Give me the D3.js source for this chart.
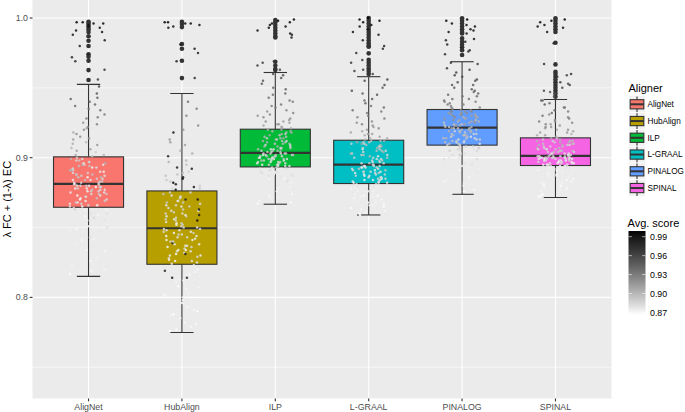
<!DOCTYPE html>
<html><head><meta charset="utf-8">
<script src="https://cdn.jsdelivr.net/npm/d3@7"></script>
<style>body{margin:0;background:#fff;}svg{display:block;font-family:"Liberation Sans",Arial,sans-serif;}</style>
</head><body>
<svg id="chart" width="685" height="412"></svg>
<script>
// ---------- data ----------
const categories = ["AligNet","HubAlign","ILP","L-GRAAL","PINALOG","SPINAL"];
const lowerWhisker = [0.815,0.7749,0.8667,0.859,0.8738,0.8715];
const q1Values     = [0.8645,0.8237,0.8934,0.8815,0.909,0.8944];
const medianValues = [0.8812,0.8495,0.9034,0.8951,0.9216,0.9013];
const q3Values     = [0.9006,0.8762,0.9204,0.9125,0.9345,0.9142];
const upperWhisker = [0.9525,0.946,0.961,0.958,0.9687,0.9417];

const outliersAligNet = [0.9973,0.9964,0.995,0.9935,0.992,0.990,0.987,0.9837,0.980,0.974,0.9723,0.9694,0.9627,0.9556];
const outliersHubAlign = [0.9973,0.9957,0.9935,0.9814,0.978,0.9694,0.957];
const outliersILP = [0.9986,0.997,0.995,0.993,0.991,0.989,0.987,0.986,0.9687,0.966,0.9635,0.9628];
const outliersLGRAAL = [1.0,0.998,0.996,0.994,0.992,0.99,0.988,0.986,0.984,0.982,0.98,0.9795,0.9747,0.97,0.968,0.966,0.964,0.962,0.96];
const outliersPINALOG = [0.9998,0.998,0.996,0.994,0.992,0.990,0.989,0.9854,0.983,0.981,0.979,0.977,0.9735];
const outliersSPINAL = [0.9998,0.998,0.996,0.994,0.992,0.990,0.9823,0.9668,0.9615,0.96,0.958,0.956,0.954,0.952,0.950,0.948,0.946,0.9436];

const valuesAligNet = [0.817,0.820,0.823,0.826,0.830,0.834,0.836,0.839,0.841,0.843,0.845,0.847,0.849,0.850,0.852,0.853,0.855,0.856,0.857,0.858,0.859,0.860,0.861,0.862,0.863,
0.865,0.866,0.867,0.868,0.869,0.870,0.871,0.871,0.872,0.873,0.874,0.874,0.875,0.876,0.876,0.877,0.877,0.878,0.878,0.879,0.879,0.880,0.880,0.881,0.881,
0.882,0.882,0.883,0.884,0.884,0.885,0.886,0.886,0.887,0.888,0.888,0.889,0.890,0.891,0.891,0.892,0.893,0.894,0.895,0.895,0.896,0.897,0.898,0.899,0.900,
0.901,0.902,0.904,0.905,0.907,0.909,0.911,0.913,0.915,0.918,0.920,0.922,0.925,0.928,0.931,0.934,0.937,0.940,0.943,0.951,
0.956,0.963,0.969,0.972,0.974,0.980,0.984,0.988,0.991,0.994,0.996,0.997];
const scoresAligNet = [0.868,0.870,0.872,0.869,0.875,0.871,0.878,0.873,0.870,0.880,0.874,0.877,0.869,0.882,0.876,0.871,0.879,0.873,0.884,0.875,0.870,0.881,0.877,0.872,0.886,
0.872,0.885,0.878,0.890,0.874,0.882,0.895,0.876,0.888,0.870,0.884,0.892,0.879,0.873,0.887,0.896,0.881,0.875,0.889,0.871,0.893,0.883,0.877,0.898,0.880,
0.886,0.874,0.891,0.879,0.897,0.883,0.872,0.894,0.888,0.876,0.899,0.885,0.878,0.902,0.890,0.881,0.873,0.895,0.887,0.905,0.877,0.892,0.884,0.900,0.889,
0.895,0.905,0.890,0.910,0.900,0.915,0.898,0.912,0.920,0.905,0.918,0.925,0.915,0.930,0.928,0.935,0.938,0.942,0.945,0.955,
0.965,0.970,0.975,0.978,0.980,0.984,0.986,0.988,0.990,0.993,0.995,0.997];
const valuesAligNetB = [0.819,0.828,0.833,0.838,0.842,0.846,0.848,0.851,0.854,0.855,0.857,0.858,0.860,0.861,0.862,0.863,0.864,
0.865,0.866,0.867,0.868,0.869,0.870,0.872,0.873,0.874,0.875,0.876,0.877,0.878,0.879,0.879,0.880,0.880,0.881,
0.882,0.883,0.884,0.885,0.886,0.887,0.888,0.889,0.890,0.891,0.892,0.893,0.894,0.895,0.896,0.897,0.898,0.899,
0.902,0.906,0.910,0.914,0.917,0.921,0.924,0.929,0.935,0.938,0.942,0.946,
0.990,0.993,0.995,0.996,0.997];
const scoresAligNetB = [0.869,0.872,0.870,0.874,0.871,0.876,0.873,0.870,0.878,0.872,0.875,0.869,0.880,0.874,0.877,0.871,0.879,
0.880,0.874,0.886,0.877,0.891,0.872,0.884,0.879,0.894,0.876,0.888,0.882,0.873,0.897,0.885,0.878,0.890,0.881,
0.884,0.893,0.877,0.889,0.899,0.880,0.895,0.886,0.874,0.901,0.891,0.883,0.896,0.878,0.904,0.887,0.892,0.882,
0.900,0.910,0.906,0.915,0.920,0.912,0.925,0.930,0.936,0.940,0.944,0.950,
0.988,0.991,0.993,0.995,0.997];

const valuesHubAlign = [0.776,0.779,0.782,0.785,0.788,0.791,0.794,0.796,0.798,0.800,0.802,0.804,0.806,0.808,0.810,0.811,0.813,0.814,0.815,0.816,0.817,0.818,0.819,0.821,0.822,
0.824,0.826,0.827,0.829,0.830,0.831,0.832,0.833,0.834,0.835,0.836,0.837,0.838,0.839,0.840,0.841,0.842,0.843,0.844,0.845,0.846,0.847,0.848,0.848,0.849,
0.850,0.851,0.852,0.853,0.854,0.855,0.856,0.857,0.858,0.859,0.860,0.861,0.862,0.863,0.864,0.865,0.866,0.867,0.868,0.869,0.870,0.871,0.872,0.874,0.875,
0.877,0.878,0.879,0.880,0.882,0.884,0.886,0.888,0.890,0.892,0.895,0.898,0.901,0.905,0.909,0.913,0.918,0.923,0.930,0.940,
0.957,0.969,0.978,0.981,0.994,0.996,0.997];
const scoresHubAlign = [0.868,0.870,0.869,0.872,0.867,0.871,0.874,0.868,0.870,0.873,0.869,0.875,0.871,0.868,0.876,0.870,0.872,0.985,0.874,0.869,0.877,0.871,0.980,0.873,0.878,
0.875,0.880,0.872,0.884,0.877,0.870,0.882,0.879,0.874,0.886,0.871,0.881,0.876,0.990,0.883,0.873,0.878,0.885,0.872,0.880,0.887,0.875,0.882,0.877,0.884,
0.879,0.886,0.874,0.888,0.881,0.992,0.877,0.885,0.890,0.876,0.883,0.888,0.873,0.986,0.882,0.889,0.878,0.884,0.891,0.880,0.975,0.887,0.882,0.893,0.885,
0.990,0.885,0.988,0.890,0.995,0.892,0.982,0.896,0.888,0.985,0.895,0.900,0.978,0.905,0.910,0.915,0.990,0.920,0.925,0.935,
0.975,0.980,0.985,0.988,0.992,0.995,0.997];
const valuesHubAlignB = [0.777,0.781,0.787,0.790,0.793,0.797,0.801,0.803,0.807,0.809,0.812,0.814,0.816,0.818,0.820,0.821,0.823,
0.825,0.826,0.828,0.830,0.831,0.833,0.834,0.836,0.837,0.838,0.840,0.841,0.843,0.844,0.845,0.846,0.847,0.849,
0.850,0.852,0.853,0.855,0.856,0.858,0.859,0.860,0.862,0.863,0.865,0.866,0.868,0.869,0.870,0.872,0.873,0.875,
0.878,0.881,0.883,0.885,0.887,0.889,0.893,0.897,0.903,0.911,0.920,0.935,
0.975,0.993,0.995,0.996,0.997];
const scoresHubAlignB = [0.867,0.869,0.871,0.868,0.870,0.872,0.869,0.873,0.870,0.874,0.871,0.975,0.872,0.875,0.870,0.876,0.873,
0.878,0.872,0.882,0.875,0.985,0.880,0.871,0.884,0.877,0.879,0.886,0.873,0.881,0.876,0.888,0.874,0.883,0.879,
0.881,0.887,0.875,0.884,0.890,0.878,0.982,0.886,0.880,0.889,0.876,0.884,0.892,0.879,0.987,0.885,0.881,0.890,
0.890,0.985,0.893,0.988,0.896,0.899,0.980,0.902,0.906,0.912,0.918,0.930,
0.978,0.990,0.993,0.995,0.997];

const valuesILP = [0.867,0.869,0.871,0.873,0.875,0.876,0.877,0.878,0.879,0.880,0.881,0.882,0.883,0.884,0.885,0.886,0.887,0.888,0.888,0.889,0.890,0.890,0.891,0.892,0.893,
0.894,0.894,0.895,0.895,0.896,0.896,0.897,0.897,0.898,0.898,0.898,0.899,0.899,0.899,0.900,0.900,0.900,0.901,0.901,0.901,0.902,0.902,0.902,0.903,0.903,
0.904,0.904,0.905,0.905,0.906,0.906,0.907,0.907,0.908,0.908,0.909,0.910,0.910,0.911,0.912,0.912,0.913,0.914,0.914,0.915,0.916,0.917,0.918,0.919,0.920,
0.921,0.922,0.923,0.924,0.925,0.926,0.927,0.929,0.930,0.932,0.934,0.936,0.938,0.940,0.943,0.946,0.949,0.953,0.957,0.960,
0.963,0.966,0.969,0.986,0.988,0.991,0.993,0.995,0.997,0.999];
const scoresILP = [0.868,0.870,0.872,0.869,0.874,0.871,0.876,0.873,0.870,0.878,0.875,0.872,0.880,0.874,0.869,0.877,0.882,0.871,0.879,0.875,0.884,0.873,0.881,0.877,0.886,
0.880,0.887,0.876,0.891,0.883,0.878,0.894,0.885,0.881,0.889,0.875,0.892,0.884,0.879,0.896,0.887,0.882,0.890,0.877,0.893,0.886,0.880,0.898,0.884,0.889,
0.891,0.884,0.897,0.888,0.882,0.900,0.893,0.886,0.903,0.890,0.885,0.898,0.892,0.905,0.887,0.895,0.901,0.889,0.908,0.896,0.893,0.903,0.899,0.910,0.905,
0.905,0.912,0.908,0.915,0.910,0.918,0.913,0.920,0.916,0.925,0.922,0.928,0.932,0.930,0.936,0.940,0.944,0.948,0.952,0.955,
0.960,0.963,0.966,0.985,0.987,0.989,0.991,0.993,0.995,0.997];
const valuesILPB = [0.868,0.872,0.874,0.877,0.879,0.880,0.882,0.884,0.885,0.887,0.888,0.889,0.890,0.891,0.892,0.892,0.893,
0.894,0.895,0.895,0.896,0.897,0.897,0.898,0.899,0.899,0.900,0.900,0.901,0.901,0.902,0.902,0.903,0.903,0.903,
0.904,0.905,0.906,0.906,0.907,0.908,0.909,0.910,0.911,0.912,0.913,0.914,0.915,0.916,0.917,0.918,0.919,0.920,
0.922,0.924,0.926,0.928,0.931,0.933,0.937,0.941,0.945,0.950,0.955,0.959,
0.968,0.989,0.994,0.996,0.998];
const scoresILPB = [0.869,0.873,0.870,0.875,0.872,0.877,0.874,0.879,0.871,0.881,0.876,0.883,0.878,0.885,0.880,0.874,0.887,
0.882,0.889,0.878,0.892,0.885,0.880,0.895,0.887,0.883,0.891,0.877,0.894,0.886,0.881,0.897,0.889,0.884,0.893,
0.888,0.896,0.884,0.900,0.891,0.903,0.887,0.898,0.894,0.906,0.890,0.901,0.897,0.909,0.893,0.904,0.900,0.911,
0.907,0.914,0.911,0.918,0.922,0.917,0.926,0.931,0.936,0.942,0.948,0.953,
0.964,0.988,0.992,0.995,0.997];

const valuesLGRAAL = [0.859,0.861,0.863,0.865,0.866,0.867,0.868,0.869,0.870,0.871,0.872,0.873,0.874,0.874,0.875,0.876,0.876,0.877,0.878,0.878,0.879,0.879,0.880,0.880,0.881,
0.882,0.882,0.883,0.884,0.884,0.885,0.886,0.886,0.887,0.887,0.888,0.888,0.889,0.889,0.890,0.890,0.891,0.891,0.892,0.892,0.893,0.893,0.894,0.894,0.895,
0.896,0.896,0.897,0.898,0.898,0.899,0.900,0.900,0.901,0.902,0.902,0.903,0.904,0.905,0.905,0.906,0.907,0.908,0.908,0.909,0.910,0.910,0.911,0.912,0.912,
0.913,0.914,0.915,0.916,0.917,0.918,0.920,0.921,0.923,0.924,0.926,0.928,0.930,0.932,0.934,0.936,0.939,0.942,0.945,0.948,0.952,0.956,
0.960,0.962,0.965,0.968,0.970,0.975,0.980,0.984,0.988,0.992,0.995,0.997,0.999,1.000];
const scoresLGRAAL = [0.867,0.869,0.870,0.868,0.872,0.869,0.871,0.873,0.870,0.874,0.872,0.868,0.875,0.871,0.876,0.873,0.870,0.877,0.874,0.878,0.872,0.879,0.875,0.880,0.876,
0.874,0.880,0.877,0.883,0.875,0.886,0.879,0.882,0.888,0.876,0.884,0.890,0.878,0.885,0.881,0.892,0.877,0.887,0.883,0.894,0.880,0.889,0.885,0.879,0.891,
0.884,0.893,0.880,0.888,0.896,0.882,0.891,0.886,0.899,0.883,0.894,0.889,0.902,0.885,0.897,0.891,0.887,0.905,0.893,0.899,0.889,0.908,0.895,0.902,0.911,
0.900,0.905,0.910,0.903,0.915,0.908,0.912,0.920,0.916,0.924,0.920,0.928,0.932,0.926,0.935,0.938,0.942,0.946,0.950,0.953,0.956,0.960,
0.962,0.964,0.966,0.968,0.970,0.974,0.978,0.982,0.986,0.989,0.992,0.994,0.996,0.998];
const valuesLGRAALB = [0.860,0.862,0.864,0.866,0.868,0.869,0.871,0.872,0.873,0.875,0.876,0.877,0.878,0.879,0.880,0.880,0.881,
0.882,0.883,0.884,0.885,0.885,0.886,0.887,0.888,0.889,0.890,0.890,0.891,0.892,0.893,0.893,0.894,0.894,0.895,
0.896,0.897,0.898,0.899,0.900,0.901,0.902,0.903,0.904,0.905,0.906,0.907,0.908,0.909,0.910,0.911,0.911,0.912,
0.914,0.917,0.919,0.922,0.925,0.929,0.933,0.937,0.941,0.946,0.950,0.955,
0.963,0.978,0.990,0.994,0.998];
const scoresLGRAALB = [0.868,0.870,0.867,0.872,0.869,0.874,0.871,0.873,0.870,0.876,0.872,0.875,0.869,0.878,0.874,0.877,0.880,
0.876,0.883,0.879,0.886,0.874,0.889,0.881,0.877,0.891,0.884,0.878,0.893,0.880,0.887,0.875,0.890,0.882,0.886,
0.887,0.881,0.894,0.885,0.898,0.879,0.892,0.901,0.886,0.895,0.883,0.904,0.890,0.897,0.884,0.907,0.893,0.900,
0.904,0.911,0.907,0.915,0.918,0.922,0.927,0.933,0.937,0.943,0.948,0.955,
0.963,0.976,0.988,0.993,0.997];

const valuesPINALOG = [0.874,0.877,0.880,0.883,0.885,0.887,0.889,0.891,0.893,0.894,0.896,0.897,0.898,0.899,0.900,0.901,0.902,0.903,0.904,0.905,0.906,0.906,0.907,0.908,0.908,
0.909,0.910,0.910,0.911,0.912,0.912,0.913,0.913,0.914,0.914,0.915,0.915,0.916,0.916,0.917,0.917,0.918,0.918,0.919,0.919,0.920,0.920,0.921,0.921,0.921,
0.922,0.922,0.923,0.923,0.924,0.924,0.925,0.925,0.926,0.926,0.927,0.927,0.928,0.928,0.929,0.929,0.930,0.930,0.931,0.931,0.932,0.932,0.933,0.933,0.934,
0.935,0.936,0.937,0.938,0.939,0.940,0.941,0.942,0.944,0.945,0.947,0.948,0.950,0.952,0.954,0.956,0.958,0.961,0.964,0.968,
0.974,0.977,0.979,0.981,0.983,0.985,0.989,0.990,0.992,0.994,0.996,0.998];
const scoresPINALOG = [0.868,0.869,0.871,0.870,0.873,0.872,0.875,0.871,0.877,0.874,0.879,0.876,0.873,0.881,0.878,0.875,0.883,0.880,0.877,0.885,0.879,0.887,0.882,0.889,0.884,
0.886,0.880,0.891,0.884,0.888,0.894,0.882,0.890,0.897,0.886,0.893,0.881,0.899,0.889,0.895,0.885,0.902,0.892,0.888,0.905,0.897,0.891,0.900,0.894,0.908,
0.896,0.903,0.890,0.907,0.899,0.911,0.893,0.905,0.914,0.901,0.909,0.897,0.916,0.906,0.912,0.902,0.919,0.910,0.915,0.908,0.922,0.913,0.918,0.925,0.920,
0.918,0.925,0.922,0.928,0.930,0.926,0.933,0.936,0.932,0.940,0.938,0.944,0.948,0.946,0.952,0.955,0.958,0.962,0.965,0.968,
0.972,0.975,0.978,0.980,0.982,0.984,0.987,0.989,0.991,0.993,0.995,0.997];
const valuesPINALOGB = [0.876,0.882,0.886,0.890,0.892,0.895,0.897,0.899,0.900,0.902,0.903,0.904,0.905,0.906,0.907,0.907,0.908,
0.909,0.910,0.911,0.911,0.912,0.913,0.914,0.914,0.915,0.916,0.916,0.917,0.918,0.919,0.919,0.920,0.920,0.921,
0.922,0.923,0.923,0.924,0.925,0.926,0.926,0.927,0.928,0.929,0.929,0.930,0.931,0.931,0.932,0.933,0.933,0.934,
0.936,0.938,0.940,0.942,0.944,0.946,0.949,0.952,0.955,0.959,0.963,0.967,
0.976,0.984,0.991,0.995,0.999];
const scoresPINALOGB = [0.869,0.874,0.871,0.877,0.873,0.880,0.875,0.883,0.878,0.886,0.881,0.876,0.888,0.884,0.879,0.891,0.886,
0.889,0.895,0.884,0.898,0.891,0.886,0.901,0.894,0.888,0.904,0.897,0.890,0.907,0.899,0.893,0.910,0.902,0.896,
0.900,0.913,0.905,0.897,0.916,0.908,0.902,0.919,0.911,0.906,0.921,0.914,0.909,0.924,0.917,0.912,0.927,0.920,
0.924,0.930,0.927,0.934,0.937,0.941,0.945,0.949,0.953,0.958,0.962,0.966,
0.974,0.981,0.989,0.994,0.998];

const valuesSPINAL = [0.872,0.874,0.876,0.878,0.879,0.881,0.882,0.883,0.884,0.885,0.886,0.887,0.888,0.888,0.889,0.890,0.890,0.891,0.891,0.892,0.892,0.893,0.893,0.894,0.894,
0.895,0.895,0.895,0.896,0.896,0.896,0.897,0.897,0.897,0.898,0.898,0.898,0.898,0.899,0.899,0.899,0.899,0.900,0.900,0.900,0.900,0.901,0.901,0.901,0.901,
0.902,0.902,0.903,0.903,0.903,0.904,0.904,0.905,0.905,0.906,0.906,0.907,0.907,0.908,0.908,0.909,0.909,0.910,0.910,0.911,0.911,0.912,0.912,0.913,0.914,
0.915,0.916,0.917,0.918,0.919,0.920,0.921,0.922,0.923,0.924,0.925,0.926,0.927,0.928,0.930,0.932,0.934,0.936,0.938,0.941,
0.944,0.946,0.948,0.950,0.952,0.954,0.956,0.958,0.960,0.967,0.982,0.990,0.993,0.995,0.997,0.999];
const scoresSPINAL = [0.867,0.868,0.870,0.869,0.871,0.868,0.872,0.870,0.873,0.869,0.874,0.871,0.875,0.870,0.876,0.872,0.874,0.877,0.871,0.878,0.873,0.875,0.879,0.872,0.880,
0.876,0.879,0.873,0.882,0.877,0.885,0.874,0.880,0.887,0.878,0.883,0.875,0.889,0.881,0.886,0.876,0.884,0.891,0.879,0.887,0.882,0.893,0.877,0.888,0.884,
0.880,0.889,0.884,0.892,0.878,0.895,0.886,0.890,0.898,0.883,0.893,0.887,0.900,0.891,0.896,0.885,0.903,0.894,0.899,0.890,0.906,0.897,0.902,0.893,0.908,
0.905,0.910,0.903,0.914,0.908,0.918,0.912,0.920,0.916,0.924,0.922,0.928,0.926,0.932,0.935,0.938,0.941,0.945,0.948,0.950,
0.952,0.955,0.958,0.960,0.962,0.964,0.966,0.968,0.970,0.972,0.980,0.986,0.990,0.993,0.995,0.997];
const valuesSPINALB = [0.873,0.877,0.880,0.882,0.884,0.886,0.887,0.888,0.889,0.890,0.891,0.891,0.892,0.893,0.893,0.894,0.894,
0.895,0.895,0.896,0.896,0.897,0.897,0.898,0.898,0.899,0.899,0.899,0.900,0.900,0.900,0.900,0.901,0.901,0.901,
0.902,0.902,0.903,0.904,0.904,0.905,0.906,0.906,0.907,0.908,0.909,0.909,0.910,0.911,0.912,0.912,0.913,0.914,
0.916,0.918,0.920,0.922,0.924,0.926,0.929,0.931,0.933,0.936,0.939,0.941,
0.947,0.953,0.959,0.994,0.998];
const scoresSPINALB = [0.868,0.870,0.867,0.872,0.869,0.874,0.871,0.873,0.870,0.876,0.872,0.875,0.877,0.871,0.878,0.874,0.879,
0.875,0.881,0.877,0.884,0.873,0.886,0.879,0.882,0.888,0.876,0.885,0.880,0.890,0.878,0.887,0.883,0.892,0.881,
0.884,0.891,0.879,0.894,0.886,0.897,0.882,0.893,0.899,0.888,0.902,0.890,0.896,0.904,0.887,0.900,0.906,0.893,
0.903,0.911,0.907,0.915,0.913,0.919,0.923,0.921,0.927,0.931,0.936,0.942,
0.950,0.956,0.961,0.992,0.997];

const yMajorTicks = [0.8,0.9,1.0];
const yMinorTicks = [0.75,0.85,0.95];
const scoreTicks = [0.87,0.90,0.93,0.96,0.99];
const scoreRange = [0.866,0.999];

// ---------- styles ----------
const palette = ["#F8766D","#B79F00","#00BA38","#00BFC4","#619CFF","#F564E3"];
const pointValues = [valuesAligNet.concat(valuesAligNetB),valuesHubAlign.concat(valuesHubAlignB),valuesILP.concat(valuesILPB),
  valuesLGRAAL.concat(valuesLGRAALB),valuesPINALOG.concat(valuesPINALOGB),valuesSPINAL.concat(valuesSPINALB)];
const pointScores = [scoresAligNet.concat(scoresAligNetB),scoresHubAlign.concat(scoresHubAlignB),scoresILP.concat(scoresILPB),
  scoresLGRAAL.concat(scoresLGRAALB),scoresPINALOG.concat(scoresPINALOGB),scoresSPINAL.concat(scoresSPINALB)];
const outliers = [outliersAligNet,outliersHubAlign,outliersILP,outliersLGRAAL,outliersPINALOG,outliersSPINAL];

const svg = d3.select("#chart");
const P = {left:32.5, right:611.5, top:0, bottom:398.5};

const x = d3.scalePoint().domain(categories).range([P.left,P.right]).padding(0.6);
const step = x.step();
const y = d3.scaleLinear().domain([0.7276,1.0129]).range([P.bottom,P.top]);
const color = d3.scaleLinear().domain(scoreRange).range(["#ffffff","#000000"]).interpolate(d3.interpolateLab);

// deterministic horizontal jitter (layout only), spread over ±0.2 of a category step
function jitterFrac(j,i){ const s = Math.sin(j*12.9898 + i*78.233)*43758.5453; return s - Math.floor(s); }

svg.append("defs").append("clipPath").attr("id","pclip").append("rect")
  .attr("x",P.left).attr("y",P.top).attr("width",P.right-P.left).attr("height",P.bottom-P.top);

// panel
svg.append("rect").attr("x",P.left).attr("y",P.top).attr("width",P.right-P.left).attr("height",P.bottom-P.top).attr("fill","#EBEBEB");
const grid = svg.append("g");
yMinorTicks.forEach(t=>grid.append("line").attr("x1",P.left).attr("x2",P.right).attr("y1",y(t)).attr("y2",y(t)).attr("stroke","#fff").attr("stroke-width",0.55));
yMajorTicks.forEach(t=>grid.append("line").attr("x1",P.left).attr("x2",P.right).attr("y1",y(t)).attr("y2",y(t)).attr("stroke","#fff").attr("stroke-width",1.1));
categories.forEach(c=>grid.append("line").attr("x1",x(c)).attr("x2",x(c)).attr("y1",P.top).attr("y2",P.bottom).attr("stroke","#fff").attr("stroke-width",1.1));

const plot = svg.append("g").attr("clip-path","url(#pclip)");
const lineCol = "#333333";
const boxW = step*0.75, capW = step*0.25;

categories.forEach((c,i)=>{
  const cx = x(c);
  const g = plot.append("g");
  g.append("line").attr("x1",cx).attr("x2",cx).attr("y1",y(q3Values[i])).attr("y2",y(upperWhisker[i])).attr("stroke",lineCol).attr("stroke-width",1.1);
  g.append("line").attr("x1",cx).attr("x2",cx).attr("y1",y(q1Values[i])).attr("y2",y(lowerWhisker[i])).attr("stroke",lineCol).attr("stroke-width",1.1);
  g.append("line").attr("x1",cx-capW/2).attr("x2",cx+capW/2).attr("y1",y(upperWhisker[i])).attr("y2",y(upperWhisker[i])).attr("stroke",lineCol).attr("stroke-width",1.1);
  g.append("line").attr("x1",cx-capW/2).attr("x2",cx+capW/2).attr("y1",y(lowerWhisker[i])).attr("y2",y(lowerWhisker[i])).attr("stroke",lineCol).attr("stroke-width",1.1);
  g.append("rect").attr("x",cx-boxW/2).attr("width",boxW).attr("y",y(q3Values[i])).attr("height",y(q1Values[i])-y(q3Values[i]))
    .attr("fill",palette[i]).attr("stroke",lineCol).attr("stroke-width",1.1);
  g.append("line").attr("x1",cx-boxW/2).attr("x2",cx+boxW/2).attr("y1",y(medianValues[i])).attr("y2",y(medianValues[i])).attr("stroke",lineCol).attr("stroke-width",2.2);
  g.selectAll("circle.out").data(outliers[i]).join("circle").attr("class","out")
    .attr("cx",cx).attr("cy",d=>y(d)).attr("r",2.3).attr("fill",lineCol);
});

// jittered points
categories.forEach((c,i)=>{
  const cx = x(c);
  const vals = pointValues[i], sc = pointScores[i];
  const pts = vals.map((v,j)=>({v, s:sc[j], off: (jitterFrac(j,i) - 0.5)*0.4*step}));
  plot.append("g").selectAll("circle").data(pts).join("circle")
    .attr("cx",d=>cx+d.off).attr("cy",d=>y(d.v)).attr("r",1.25)
    .attr("fill",d=>color(d.s)).attr("fill-opacity",0.85);
});

// axes
const axisCol = "#333333", labCol = "#4D4D4D";
yMajorTicks.forEach(t=>{
  svg.append("line").attr("x1",P.left-2.8).attr("x2",P.left).attr("y1",y(t)).attr("y2",y(t)).attr("stroke",axisCol).attr("stroke-width",1.1);
  svg.append("text").attr("x",P.left-4.5).attr("y",y(t)).attr("dy","0.35em").attr("text-anchor","end")
    .attr("font-size",8.8).attr("fill",labCol).text(d3.format(".1f")(t));
});
categories.forEach(c=>{
  svg.append("line").attr("x1",x(c)).attr("x2",x(c)).attr("y1",P.bottom).attr("y2",P.bottom+2.8).attr("stroke",axisCol).attr("stroke-width",1.1);
  svg.append("text").attr("x",x(c)).attr("y",P.bottom+11).attr("text-anchor","middle")
    .attr("font-size",8.8).attr("fill",labCol).text(c);
});
svg.append("text").attr("transform",`translate(11,${(P.top+P.bottom)/2}) rotate(-90)`).attr("text-anchor","middle")
  .attr("font-size",11).attr("fill","#000").text("λ FC + (1-λ) EC");

// legend: Aligner
const lx = 628.5;
svg.append("text").attr("x",lx).attr("y",88.3).attr("dy","0.35em").attr("font-size",11).attr("fill","#000").text("Aligner");
const keyH = 16.75, key0 = 104.3;
categories.forEach((c,i)=>{
  const cy = key0 + i*keyH;
  const g = svg.append("g");
  g.append("rect").attr("x",lx).attr("y",cy-keyH/2).attr("width",17).attr("height",keyH).attr("fill","#F2F2F2").attr("stroke","#fff").attr("stroke-width",0.5);
  const kx = lx+8.5;
  g.append("line").attr("x1",kx).attr("x2",kx).attr("y1",cy-keyH/2+0.5).attr("y2",cy+keyH/2-0.5).attr("stroke",lineCol).attr("stroke-width",1.1);
  g.append("rect").attr("x",lx+1.7).attr("y",cy-4.6).attr("width",13.6).attr("height",9.2).attr("fill",palette[i]).attr("stroke",lineCol).attr("stroke-width",1.1);
  g.append("line").attr("x1",lx+1.7).attr("x2",lx+15.3).attr("y1",cy).attr("y2",cy).attr("stroke",lineCol).attr("stroke-width",2);
  svg.append("text").attr("x",lx+19).attr("y",cy).attr("dy","0.35em").attr("font-size",8.2).attr("fill","#000").text(c);
});

// legend: Avg. score colorbar
svg.append("text").attr("x",lx-1).attr("y",223).attr("dy","0.35em").attr("font-size",11).attr("fill","#000").text("Avg. score");
const cb = d3.scaleLinear().domain(scoreRange).range([315,231]);
const grad = svg.select("defs").append("linearGradient").attr("id","cbgrad").attr("x1",0).attr("x2",0).attr("y1",1).attr("y2",0);
d3.range(0,21).forEach(k=>{
  const s = scoreRange[0] + (scoreRange[1]-scoreRange[0])*k/20;
  grad.append("stop").attr("offset",k/20).attr("stop-color",color(s));
});
svg.append("rect").attr("x",lx).attr("y",cb(scoreRange[1])).attr("width",17).attr("height",cb(scoreRange[0])-cb(scoreRange[1])).attr("fill","url(#cbgrad)");
scoreTicks.forEach(t=>{
  svg.append("line").attr("x1",lx).attr("x2",lx+3.4).attr("y1",cb(t)).attr("y2",cb(t)).attr("stroke","#fff").attr("stroke-width",0.6);
  svg.append("line").attr("x1",lx+13.6).attr("x2",lx+17).attr("y1",cb(t)).attr("y2",cb(t)).attr("stroke","#fff").attr("stroke-width",0.6);
  svg.append("text").attr("x",lx+21.5).attr("y",cb(t)).attr("dy","0.35em").attr("font-size",8.8).attr("fill","#000").text(d3.format(".2f")(t));
});
</script>
</body></html>
